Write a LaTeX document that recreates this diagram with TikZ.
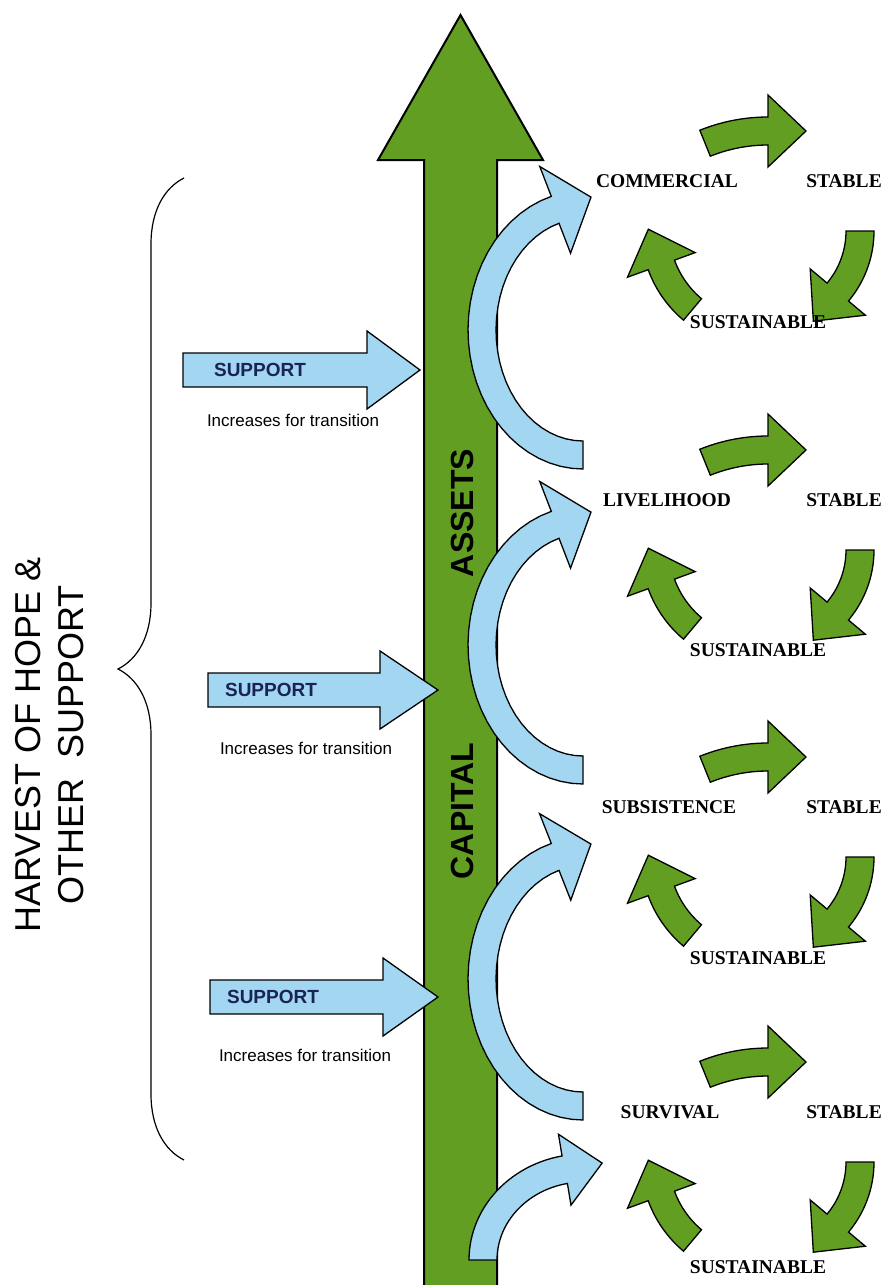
\documentclass[tikz,border=0pt]{standalone}
\usepackage{fontspec}
\setmainfont{Liberation Sans}
\newfontfamily\stagefont{Liberation Serif}
\usetikzlibrary{decorations.pathreplacing}

\definecolor{leafgreen}{RGB}{98,158,34}
\definecolor{paleblue}{RGB}{163,214,240}
\definecolor{supportnavy}{RGB}{25,35,85}

% fat curved arrow: cx, cy, rx, ry, from angle, to angle, half width, head half width, head length
\newcommand{\bentarrow}[9]{%
  \pgfmathsetmacro\hx{#1+#3*cos(#6)}%
  \pgfmathsetmacro\hy{#2+#4*sin(#6)}%
  \pgfmathsetmacro\ha{atan2(#4*cos(#6),-#3*sin(#6))}%
  \filldraw plot[domain=#5:#6,samples=30,variable=\t]({#1+(#3+#7)*cos(\t)},{#2+(#4+#7)*sin(\t)})
    -- ({\hx+#8*cos(\ha-90)},{\hy+#8*sin(\ha-90)})
    -- ({\hx+#9*cos(\ha)},{\hy+#9*sin(\ha)})
    -- ({\hx+#8*cos(\ha+90)},{\hy+#8*sin(\ha+90)})
    -- plot[domain=#6:#5,samples=30,variable=\t]({#1+(#3-#7)*cos(\t)},{#2+(#4-#7)*sin(\t)})
    -- cycle;}

\begin{document}
\begin{tikzpicture}[x=1pt,y=-1pt,
  blueturn/.style={fill=paleblue,draw=black,line width=1.3pt},
  greenturn/.style={fill=leafgreen,draw=black,line width=1.3pt},
  supportbox/.style={fill=paleblue,draw=black,line width=1.3pt},
  stage/.style={font={\stagefont\bfseries\fontsize{19.5}{22}\selectfont}},
  shaftlabel/.style={rotate=90,font={\bfseries\fontsize{32}{36}\selectfont}},
  supportlabel/.style={text=supportnavy,font={\bfseries\fontsize{19}{22}\selectfont}},
  notelabel/.style={font={\fontsize{17}{20}\selectfont}}]
\useasboundingbox (0,0) rectangle (887,1285);

% main shaft
\filldraw[fill=leafgreen,draw=black,line width=2pt]
  (424,1292) -- (424,160) -- (378,160) -- (460.5,15) -- (543,160) -- (497,160) -- (497,1292) -- cycle;
\node[shaftlabel] (assets) at (462,513) {ASSETS};
\node[shaftlabel] (capital) at (462,811) {CAPITAL};

% transitions up the shaft
\begin{scope}[blueturn]
  \bentarrow{583}{330}{101}{125}{90}{254}{14}{46}{38}
  \bentarrow{583}{645}{101}{125}{90}{254}{14}{46}{38}
  \bentarrow{583}{979}{101}{127}{90}{254}{14}{46}{38}
  \bentarrow{584}{1260}{101}{92}{180}{259}{14}{36}{38}
\end{scope}

% support arrows
\foreach \bx/\hb/\tip/\y/\sx/\nx/\ny [count=\k] in
  {183/367/420/370/260/293/420, 208/380/438/690/271/306/748, 210/383/438/997/273/305/1055}{
  \filldraw[supportbox] (\bx,\y-17) -- (\hb,\y-17) -- (\hb,\y-39) -- (\tip,\y)
    -- (\hb,\y+39) -- (\hb,\y+17) -- (\bx,\y+17) -- cycle;
  \node[supportlabel] (support\k) at (\sx,\y) {SUPPORT};
  \node[notelabel] (note\k) at (\nx,\ny) {Increases for transition};
}

% stage cycles
\foreach \r/\lbl/\lx/\sy [count=\i] in
  {181/COMMERCIAL/667/322, 500/LIVELIHOOD/667/650, 807/SUBSISTENCE/669/958, 1112/SURVIVAL/670/1267}{
  \begin{scope}[greenturn]
    \bentarrow{768}{\r+118}{168}{168}{248}{270}{14}{36}{38}
    \bentarrow{765}{\r+50}{95}{95}{0}{40}{14}{36}{38}
    \bentarrow{760}{\r+48}{105}{105}{130}{160}{14}{36}{38}
  \end{scope}
  \node[stage] (stage\i) at (\lx,\r) {\lbl};
  \node[stage] (stable\i) at (844,\r) {STABLE};
  \node[stage] (sustain\i) at (758,\sy) {SUSTAINABLE};
}

% brace and side label
\draw[line width=1.2pt,decorate,decoration={brace,amplitude=66pt}] (184,1160) -- (184,178);
\node[rotate=90,align=center,font={\fontsize{36}{43}\selectfont}] (harvest) at (50,745)
  {HARVEST OF HOPE \&\\OTHER\ \ SUPPORT};
\end{tikzpicture}
\end{document}
